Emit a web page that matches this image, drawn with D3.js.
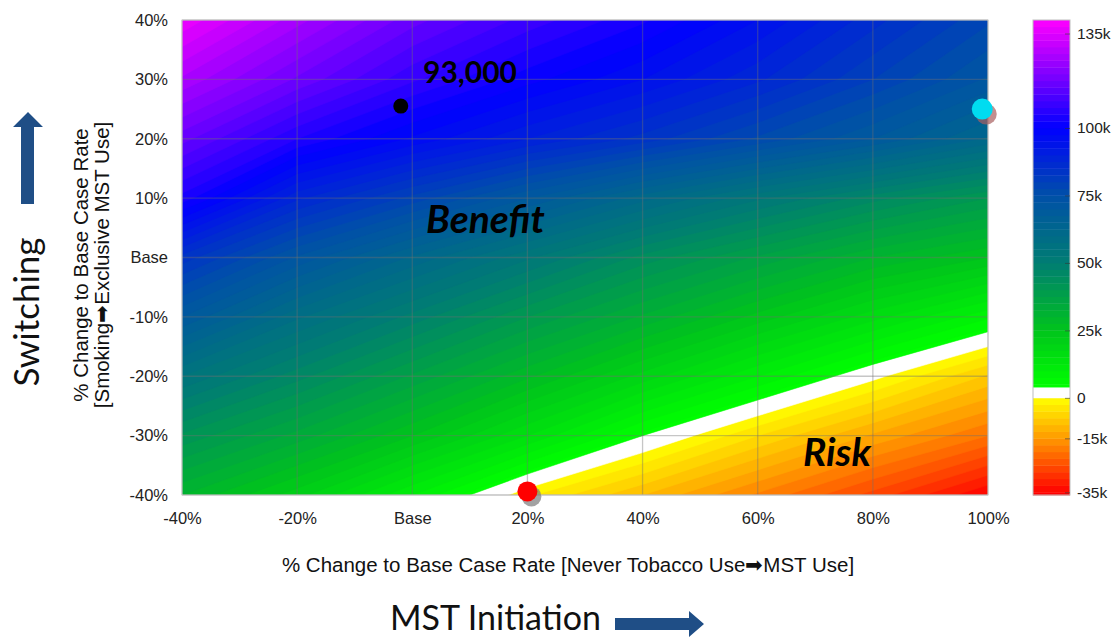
<!DOCTYPE html>
<html>
<head>
<meta charset="utf-8">
<script src="https://cdn.jsdelivr.net/npm/d3@7"></script>
<style>
  body { margin: 0; background: #fff; }
  svg { display: block; }
</style>
</head>
<body>
<svg id="chart" width="1117" height="637"></svg>
<script>
// Grid columns: % change in MST initiation; rows: % change in switching (top row first)
const initiation = [-40, -20, 0, 20, 40, 60, 80, 100];
const switching = [40, 30, 20, 10, 0, -10, -20, -30, -40];

// Net impact (thousands) at each grid crossing
const impact = [
  [137, 126, 116, 109, 103, 95, 86, 78],
  [127, 117, 108, 101, 95, 88, 80, 72],
  [116, 105, 97, 90, 84, 77, 70, 62],
  [104, 88, 79, 70, 61, 53, 46, 40],
  [84, 72, 62, 53, 44, 37, 30, 25],
  [70, 58, 49, 40, 32, 24, 16, 8],
  [55, 46, 37, 28, 19, 10, 1, -8],
  [42, 34, 25, 15, 4, -5, -13, -20],
  [30, 21, 10, -2, -10, -18, -26, -35]
];

// Highlighted scenarios
const markerX = [-2, 20, 99];
const markerY = [25.5, -39.4, 25];

// Tick labels
const xTicks = [-40, -20, 0, 20, 40, 60, 80, 100];
const yTicks = [40, 30, 20, 10, 0, -10, -20, -30, -40];
const legendTicks = [135, 100, 75, 50, 25, 0, -15, -35];

// Contour levels: white band between 0 and 4k
const levels = d3.range(-40, 0, 2.5).concat([0, 4], d3.range(5, 145, 2.5));

const svg = d3.select("#chart");
const plot = {left: 182, right: 988, top: 20, bottom: 495};
const sans = "'Liberation Sans', Arial, sans-serif";
const calibri = "Lato, 'Open Sans', sans-serif";

const x = d3.scaleLinear().domain([-40, 100]).range([plot.left, plot.right]);
const y = d3.scaleLinear().domain([-40, 40]).range([plot.bottom, plot.top]);

const posColor = d3.scaleLinear()
  .domain([4, 25, 50, 75, 100, 140])
  .range(["#00ff00", "#00c41c", "#007d72", "#0050a8", "#0000ff", "#ff00ff"])
  .clamp(true);
const negColor = d3.scaleLinear()
  .domain([-35, -15, 0])
  .range(["#ff0000", "#ff9900", "#ffff00"])
  .clamp(true);

function bandColor(lo, hi) {
  const mid = hi === undefined ? lo + 1.25 : (lo + hi) / 2;
  if (lo >= 0 && lo < 4) return "#ffffff";
  return mid < 0 ? negColor(mid) : posColor(mid);
}

const fmtPct = d => d === 0 ? "Base" : d + "%";

// clip for the filled contours
svg.append("defs").append("clipPath").attr("id", "plot-clip")
  .append("rect")
  .attr("x", plot.left).attr("y", plot.top)
  .attr("width", plot.right - plot.left).attr("height", plot.bottom - plot.top);

// Filled contour bands
const contours = d3.contours()
  .size([initiation.length, switching.length])
  .thresholds(levels)(impact.flat());

const gx = d3.scaleLinear()
  .domain([0.5, initiation.length - 0.5])
  .range([x(initiation[0]), x(initiation[initiation.length - 1])]);
const gy = d3.scaleLinear()
  .domain([0.5, switching.length - 0.5])
  .range([y(switching[0]), y(switching[switching.length - 1])]);

const path = d3.geoPath(d3.geoTransform({
  point(px, py) { this.stream.point(gx(px), gy(py)); }
}));

svg.append("g")
  .attr("clip-path", "url(#plot-clip)")
  .selectAll("path")
  .data(contours)
  .join("path")
  .attr("d", path)
  .attr("fill", (d, i) => bandColor(d.value, levels[i + 1]))
  .attr("stroke", (d, i) => bandColor(d.value, levels[i + 1]))
  .attr("stroke-width", 0.6);

// Grid lines
const grid = svg.append("g")
  .attr("stroke", "#707070")
  .attr("stroke-opacity", 0.4)
  .attr("stroke-width", 1.3);

grid.selectAll(".gv").data(xTicks).join("line")
  .attr("x1", d => x(d)).attr("x2", d => x(d))
  .attr("y1", plot.top).attr("y2", plot.bottom);

grid.selectAll(".gh").data(yTicks).join("line")
  .attr("x1", plot.left).attr("x2", plot.right)
  .attr("y1", d => y(d)).attr("y2", d => y(d));

svg.append("rect")
  .attr("x", plot.left).attr("y", plot.top)
  .attr("width", plot.right - plot.left).attr("height", plot.bottom - plot.top)
  .attr("fill", "none").attr("stroke", "#cfcfcf").attr("stroke-width", 1);

// Axes
const xAxis = svg.append("g")
  .attr("transform", `translate(0,${plot.bottom})`)
  .call(d3.axisBottom(x).tickValues(xTicks).tickFormat(fmtPct).tickSize(0).tickPadding(17));

const yAxis = svg.append("g")
  .attr("transform", `translate(${plot.left},0)`)
  .call(d3.axisLeft(y).tickValues(yTicks).tickFormat(fmtPct).tickSize(0).tickPadding(14));

[xAxis, yAxis].forEach(g => {
  g.select(".domain").remove();
  g.selectAll("text")
    .attr("fill", "#222")
    .style("font-family", sans)
    .style("font-size", "16.5px");
});

// Axis titles
svg.append("text")
  .attr("x", 568).attr("y", 572)
  .attr("text-anchor", "middle")
  .style("font-family", sans).style("font-size", "20.5px")
  .attr("fill", "#111")
  .text("% Change to Base Case Rate [Never Tobacco Use\u27A1MST Use]");

const yTitle = svg.append("text")
  .attr("transform", "rotate(-90)")
  .attr("text-anchor", "middle")
  .style("font-family", sans).style("font-size", "20.5px")
  .attr("fill", "#111");
yTitle.append("tspan").attr("x", -265).attr("y", 88).text("% Change to Base Case Rate");
yTitle.append("tspan").attr("x", -265).attr("y", 109).text("[Smoking\u27A1Exclusive MST Use]");

// Big labels with arrows
const navy = "#1f4e86";

svg.append("text")
  .attr("transform", "translate(39,312) rotate(-90)")
  .attr("text-anchor", "middle")
  .style("font-family", calibri).style("font-size", "35px")
  .attr("fill", "#111")
  .text("Switching");

svg.append("path")
  .attr("d", "M21,204 L21,127 L13,127 L28,112 L43,127 L34,127 L34,204 Z")
  .attr("fill", navy);

svg.append("text")
  .attr("x", 390).attr("y", 630)
  .style("font-family", calibri).style("font-size", "34px")
  .attr("fill", "#111")
  .text("MST Initiation");

svg.append("path")
  .attr("d", "M615,618 L689,618 L689,611 L704,624 L689,637 L689,630 L615,630 Z")
  .attr("fill", navy);

// Scenario markers
const markerStyle = [
  {fill: "#000000", r: 7.5, shadow: null},
  {fill: "#ff0000", r: 10, shadow: "#7a7a7a"},
  {fill: "#00dcf0", r: 10.5, shadow: "#a85f5f"}
];

const markers = svg.append("g");
markerX.forEach((mx, i) => {
  const s = markerStyle[i];
  if (s.shadow) {
    markers.append("circle")
      .attr("cx", x(mx) + 4).attr("cy", y(markerY[i]) + 5)
      .attr("r", s.r)
      .attr("fill", s.shadow).attr("opacity", 0.7);
  }
  markers.append("circle")
    .attr("cx", x(mx)).attr("cy", y(markerY[i]))
    .attr("r", s.r)
    .attr("fill", s.fill);
});

// Annotations
svg.append("text")
  .attr("x", 423).attr("y", 83)
  .style("font-family", calibri).style("font-size", "30px").style("font-weight", "bold")
  .attr("fill", "#000")
  .text("93,000");

svg.append("text")
  .attr("x", 426).attr("y", 233)
  .style("font-family", calibri).style("font-size", "39px")
  .style("font-weight", "bold").style("font-style", "italic")
  .attr("fill", "#000")
  .text("Benefit");

svg.append("text")
  .attr("x", 803).attr("y", 466)
  .style("font-family", calibri).style("font-size", "39px")
  .style("font-weight", "bold").style("font-style", "italic")
  .attr("fill", "#000")
  .text("Risk");

// Colour bar
const cb = {left: 1033, width: 37};
const cy = d3.scaleLinear().domain([-36, 140]).range([plot.bottom, plot.top]);
const cbLevels = [-36].concat(levels.filter(v => v > -36 && v < 140), [140]);

svg.append("g")
  .selectAll("rect")
  .data(d3.pairs(cbLevels))
  .join("rect")
  .attr("x", cb.left)
  .attr("width", cb.width)
  .attr("y", d => cy(d[1]))
  .attr("height", d => cy(d[0]) - cy(d[1]) + 0.4)
  .attr("fill", d => bandColor(d[0], d[1]));

svg.append("rect")
  .attr("x", cb.left).attr("y", plot.top)
  .attr("width", cb.width).attr("height", plot.bottom - plot.top)
  .attr("fill", "none").attr("stroke", "#bdbdbd").attr("stroke-width", 1);

const cAxis = svg.append("g")
  .attr("transform", `translate(${cb.left + cb.width},0)`)
  .call(d3.axisRight(cy).tickValues(legendTicks)
    .tickFormat(d => d === 0 ? "0" : d + "k")
    .tickSize(-5).tickPadding(7));

cAxis.select(".domain").remove();
cAxis.selectAll("line").attr("stroke", "#333").attr("stroke-opacity", 0.6);
cAxis.selectAll("text")
  .attr("fill", "#222")
  .style("font-family", sans)
  .style("font-size", "15.5px");
</script>
</body>
</html>
